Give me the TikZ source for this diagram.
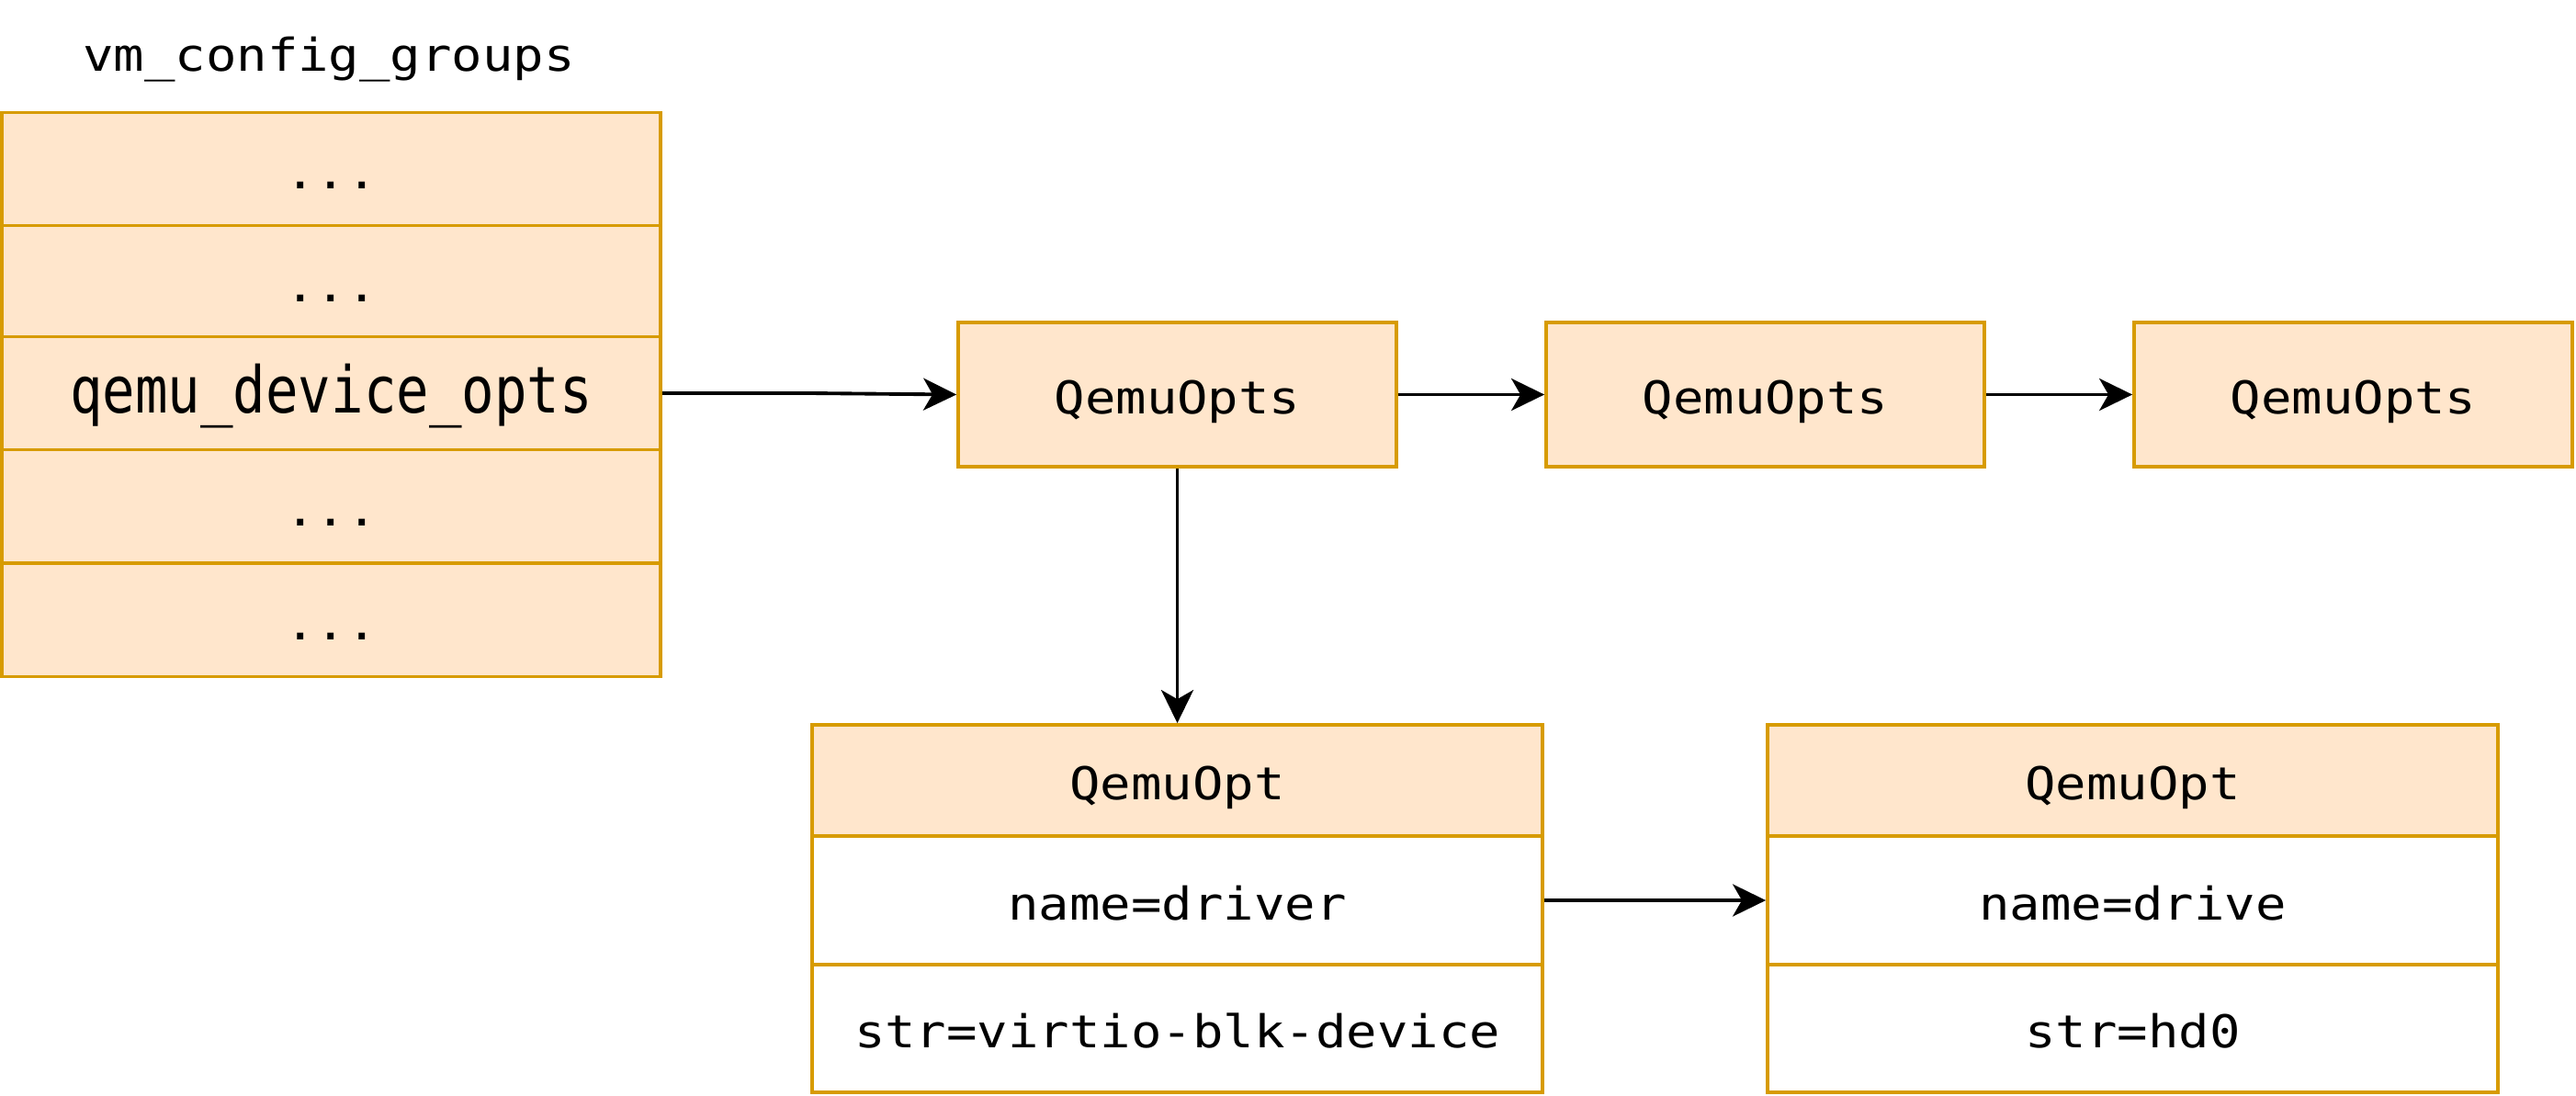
\documentclass[tikz,border=0pt]{standalone}
\usepackage{fontspec}
\usepackage{tikz}
\usetikzlibrary{arrows.meta}
\newfontfamily\cellfont{DejaVu Sans Mono}[FakeStretch=1.13]
\newfontfamily\tallfont{DejaVu Sans Mono}[FakeStretch=0.84]
\definecolor{mycellcolor}{HTML}{ffe6cc}
\definecolor{myedgecolor}{HTML}{d79b00}

\begin{document}
\begin{tikzpicture}[
  cellbox/.style={draw=myedgecolor, fill=mycellcolor, rectangle, line width=1.1pt, inner sep=0pt, text height=0.55cm, text depth=0.13cm, font=\cellfont\fontsize{14pt}{14pt}\selectfont},
  fieldbox/.style={cellbox, fill=white},
  link/.style={-{Stealth[length=0.36cm, width=0.35cm, inset=0.1cm]}, line width=1.1pt}]%
\useasboundingbox (0, 0) rectangle (28.04, -11.92);%
\node[anchor=base, inner sep=0pt, font=\cellfont\fontsize{14pt}{14pt}\selectfont] (title) at (3.58, -0.77) {vm\_config\_groups};%
\node[cellbox, minimum width=7.17cm, minimum height=1.23cm] (g1) at (3.605, -1.84) {...};%
\node[cellbox, minimum width=7.17cm, minimum height=1.23cm] (g2) at (3.605, -3.07) {...};%
\node[cellbox, minimum width=7.17cm, minimum height=1.23cm, font=\tallfont\fontsize{20pt}{20pt}\selectfont] (g3) at (3.605, -4.28) {qemu\_device\_opts};%
\node[cellbox, minimum width=7.17cm, minimum height=1.23cm] (g4) at (3.605, -5.51) {...};%
\node[cellbox, minimum width=7.17cm, minimum height=1.23cm] (g5) at (3.605, -6.75) {...};%
\node[cellbox, minimum width=4.77cm, minimum height=1.57cm] (opts1) at (12.815, -4.295) {QemuOpts};%
\node[cellbox, minimum width=4.77cm, minimum height=1.57cm] (opts2) at (19.215, -4.295) {QemuOpts};%
\node[cellbox, minimum width=4.77cm, minimum height=1.57cm] (opts3) at (25.615, -4.295) {QemuOpts};%
\node[cellbox, minimum width=7.95cm, minimum height=1.21cm] (opt1) at (12.815, -8.495) {QemuOpt};%
\node[fieldbox, minimum width=7.95cm, minimum height=1.40cm] (name1) at (12.815, -9.80) {name=driver};%
\node[fieldbox, minimum width=7.95cm, minimum height=1.39cm] (str1) at (12.815, -11.195) {str=virtio-blk-device};%
\node[cellbox, minimum width=7.95cm, minimum height=1.21cm] (opt2) at (23.215, -8.495) {QemuOpt};%
\node[fieldbox, minimum width=7.95cm, minimum height=1.40cm] (name2) at (23.215, -9.80) {name=drive};%
\node[fieldbox, minimum width=7.95cm, minimum height=1.39cm] (str2) at (23.215, -11.195) {str=hd0};%
\coordinate (bend) at (8.82, -4.28);%
\draw[link] (g3.east) -- (bend) -- (opts1.west);%
\draw[link] (opts1.east) -- (opts2.west);%
\draw[link] (opts2.east) -- (opts3.west);%
\draw[link] (opts1.south) -- (opt1.north);%
\draw[link] (name1.east) -- (name2.west);%
\end{tikzpicture}
\end{document}
